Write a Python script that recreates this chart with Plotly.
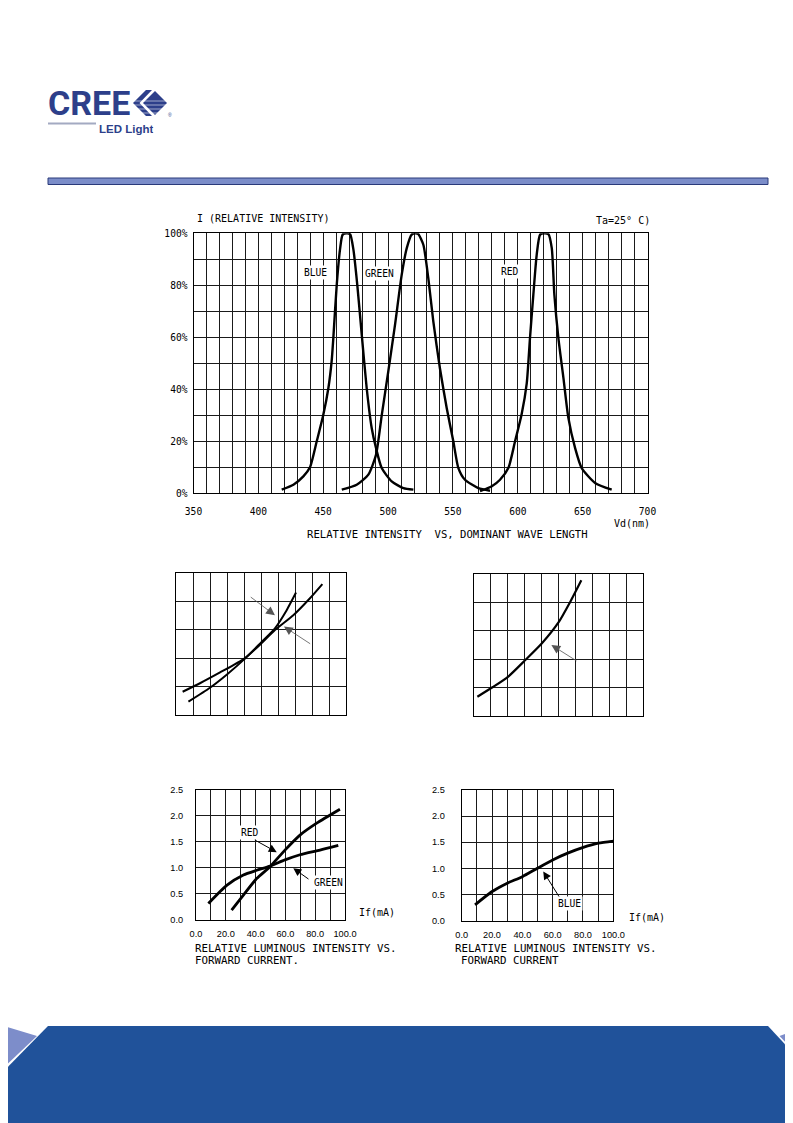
import plotly.graph_objects as go

# Page photographed in a 793 x 1123 window; the browser puts the figure at an
# 8 px body margin, so reference-page pixel (x, y) sits at figure pixel (x-8, y-8).
W, H = 793, 1123
OX, OY = 8, 8

# ---------------- data ----------------
# Relative intensity vs dominant wavelength
blue_wl = [418, 427, 434.7, 439.8, 445, 450, 454, 456.5, 457.8, 460.4, 463, 465, 468, 470.7,
           473.2, 476.3, 479.7, 483.5, 487.4, 490.7, 495.1, 502.8, 511.8, 519.5]
blue_int = [1.4, 3.3, 6.5, 10, 20, 30, 40.5, 50.8, 59.7, 80, 94, 99.5, 100, 99.7,
            94, 80, 61, 40.5, 25, 17.4, 9.7, 4.6, 2, 1.4]
green_wl = [464.3, 475.8, 484.8, 490.7, 495.1, 500.2, 505.4, 510.5, 514.4, 518.2, 521, 523.3,
            527.2, 531, 534.9, 540, 545.2, 550.3, 554.2, 559.3, 569.6, 578.6]
green_int = [1.4, 3.3, 7.2, 14.8, 30, 47, 65, 84, 94.3, 99.5, 100, 99.7,
             95.6, 82.8, 66, 48, 32.8, 20, 9.7, 5.2, 2, 1]
red_wl = [570.9, 580, 586.3, 592.7, 597.9, 603, 606.9, 609.4, 612, 614.6, 617.2, 620.5, 623.6,
          626.2, 628.2, 631.3, 635.2, 639, 644.2, 649.3, 659.6, 672.4]
red_int = [0.8, 2.7, 5.2, 9.7, 20, 30.5, 42.3, 59.7, 76.4, 91.8, 99.5, 100, 99.7,
           94.3, 76.4, 59.7, 44.3, 29, 17.4, 9.7, 4, 1.4]
wl_ticks = [350, 400, 450, 500, 550, 600, 650, 700]
pct_ticks = [0, 20, 40, 60, 80, 100]
pct_labels = ["0%", "20%", "40%", "60%", "80%", "100%"]

# Unlabelled middle charts
mid_a_if = [3.9, 14.1, 25.9, 40.4, 49.4, 58.2, 69, 78.8, 86.1]
mid_a_rel = [0.41, 0.56, 0.75, 1.0, 1.24, 1.5, 1.76, 2.06, 2.31]
mid_b_if = [7.3, 20, 29.8, 40.4, 49.4, 58.2, 65.1, 70.6]
mid_b_rel = [0.235, 0.48, 0.71, 0.99, 1.26, 1.53, 1.85, 2.16]
mid_c_if = [2, 11.2, 20.1, 30.2, 40.2, 50.3, 56.6, 63.5]
mid_c_rel = [0.34, 0.51, 0.69, 0.98, 1.28, 1.66, 1.99, 2.39]

# Relative luminous intensity vs forward current
red_if = [23.9, 31.8, 40.7, 49.7, 59.7, 69.8, 81, 96.6]
red_rel = [0.18, 0.47, 0.79, 1.02, 1.34, 1.63, 1.86, 2.13]
green_if = [8.3, 20.6, 31.8, 40.7, 49.7, 59.7, 69.8, 83.2, 95.5]
green_rel = [0.31, 0.66, 0.86, 0.95, 1.03, 1.15, 1.25, 1.34, 1.43]
blue_if = [8.8, 19.8, 29.7, 40, 49.9, 60, 69.9, 80.2, 90.1, 100]
blue_rel = [0.30, 0.55, 0.71, 0.84, 1.0, 1.16, 1.29, 1.40, 1.48, 1.52]
if_ticks = [0, 20, 40, 60, 80, 100]
if_labels = ["0.0", "20.0", "40.0", "60.0", "80.0", "100.0"]
rel_ticks = [0, 0.5, 1.0, 1.5, 2.0, 2.5]

# ---------------- helpers (reference-page pixels -> paper) ----------------
def fx(x):
    return (x - OX) / W

def fy(y):
    return 1 - (y - OY) / H

MONO = "DejaVu Sans Mono"
SANS = "Liberation Sans"
GRID = "#1a1a1a"

fig = go.Figure()

def curve(x, y, xa, ya, width):
    fig.add_trace(go.Scatter(x=x, y=y, xaxis=xa, yaxis=ya, mode="lines",
                             line=dict(color="black", width=width, shape="spline", smoothing=0.6),
                             showlegend=False, hoverinfo="skip"))

curve(blue_wl, blue_int, "x", "y", 2.4)
curve(green_wl, green_int, "x", "y", 2.4)
curve(red_wl, red_int, "x", "y", 2.4)
curve(mid_a_if, mid_a_rel, "x2", "y2", 2)
curve(mid_b_if, mid_b_rel, "x2", "y2", 2)
curve(mid_c_if, mid_c_rel, "x3", "y3", 2.2)
curve(red_if, red_rel, "x4", "y4", 2.8)
curve(green_if, green_rel, "x4", "y4", 2.8)
curve(blue_if, blue_rel, "x5", "y5", 2.8)

def xaxis(x0, x1, anchor, **kw):
    d = dict(domain=[fx(x0), fx(x1)], anchor=anchor, showline=True, linecolor="black",
             linewidth=1.2, mirror=True, showgrid=True, gridcolor=GRID, gridwidth=1,
             zeroline=False, ticks="", fixedrange=True, automargin=False)
    d.update(kw)
    return d

def yaxis(y_top, y_bot, anchor, **kw):
    d = dict(domain=[fy(y_bot), fy(y_top)], anchor=anchor, showline=True, linecolor="black",
             linewidth=1.2, mirror=True, showgrid=True, gridcolor=GRID, gridwidth=1,
             zeroline=False, ticks="", fixedrange=True, automargin=False)
    d.update(kw)
    return d

tickfont_top = dict(family=MONO, size=9.6, color="black")
tickfont_bot = dict(family=SANS, size=9.2, color="black")
minor_x = dict(dtick=10, showgrid=True, gridcolor=GRID, gridwidth=1)

fig.update_layout(
    template="none",
    width=W, height=H, margin=dict(l=0, r=0, t=0, b=0, pad=0, autoexpand=False),
    paper_bgcolor="white", plot_bgcolor="white", showlegend=False,
    xaxis=xaxis(193.5, 647.5, "y", range=[350, 700], tickvals=wl_ticks,
                tickfont=tickfont_top, ticklabelstandoff=9,
                minor=dict(dtick=10, tick0=350, showgrid=True, gridcolor=GRID, gridwidth=1)),
    yaxis=yaxis(233.3, 493.3, "x", range=[0, 100], tickvals=pct_ticks, ticktext=pct_labels,
                tickfont=tickfont_top, ticklabelstandoff=3,
                minor=dict(dtick=10, showgrid=True, gridcolor=GRID, gridwidth=1)),
    xaxis2=xaxis(176, 346, "y2", range=[0, 100], dtick=10, showticklabels=False),
    yaxis2=yaxis(573.3, 715, "x2", range=[0, 2.5], dtick=0.5, showticklabels=False),
    xaxis3=xaxis(474, 643, "y3", range=[0, 100], dtick=10, showticklabels=False),
    yaxis3=yaxis(574, 716, "x3", range=[0, 2.5], dtick=0.5, showticklabels=False),
    xaxis4=xaxis(196, 345, "y4", range=[0, 100], tickvals=if_ticks, ticktext=if_labels,
                 tickfont=tickfont_bot, ticklabelstandoff=5, minor=minor_x),
    yaxis4=yaxis(790, 919.5, "x4", range=[0, 2.5], tickvals=rel_ticks, tickformat=".1f",
                 tickfont=tickfont_bot, ticklabelstandoff=10),
    xaxis5=xaxis(461.7, 613.3, "y5", range=[0, 100], tickvals=if_ticks, ticktext=if_labels,
                 tickfont=tickfont_bot, ticklabelstandoff=5, minor=minor_x),
    yaxis5=yaxis(790, 920.5, "x5", range=[0, 2.5], tickvals=rel_ticks, tickformat=".1f",
                 tickfont=tickfont_bot, ticklabelstandoff=14),
)

anns = []

def text(t, x, y, anchor="left", size=10.6, family=MONO, color="black", bg=None, height=None):
    a = dict(text=t, x=fx(x), y=fy(y), xref="paper", yref="paper", xanchor=anchor,
             yanchor="middle", showarrow=False,
             font=dict(family=family, size=size, color=color))
    if bg:
        a.update(bgcolor=bg, borderpad=1)
    if height:
        a.update(height=height, valign="middle")
    anns.append(a)

# top chart texts
text("I (RELATIVE INTENSITY)", 195, 218, "left", 10)
text("Ta=25° C)", 652, 220, "right", 10)
text("Vd(nm)", 652, 523, "right", 10)
text("RELATIVE INTENSITY \u00a0VS, DOMINANT WAVE LENGTH", 447.5, 534, "center", 10.6)

# curve labels on top chart (data coordinates)
for lab, xv, yv in [("BLUE", 444, 85), ("GREEN", 493.5, 84.6), ("RED", 594, 85.5)]:
    anns.append(dict(text=lab, x=xv, y=yv, xref="x", yref="y", showarrow=False,
                     bgcolor="white", borderpad=1, font=dict(family=MONO, size=9.6, color="black")))

# bottom-left texts
text("If(mA)", 357, 912, "left", 10)
text("RELATIVE LUMINOUS INTENSITY VS.", 193, 948, "left", 10.8)
text("FORWARD CURRENT.", 193, 960, "left", 10.8)
text("RED", 250, 832, "center", 9.6, bg="white")
text("GREEN", 328, 882, "center", 9.6, bg="white")
# bottom-right texts
text("If(mA)", 627, 917, "left", 10)
text("RELATIVE LUMINOUS INTENSITY VS.", 453, 948, "left", 10.8)
text("FORWARD CURRENT", 459, 960, "left", 10.8)
text("BLUE", 569, 903, "center", 9.6, bg="white")

def arrow(xa, ya, head, tail, color, width, size):
    anns.append(dict(x=head[0], y=head[1], xref=xa, yref=ya, ax=tail[0], ay=tail[1],
                     axref=xa, ayref=ya, text="", showarrow=True, arrowhead=2,
                     arrowsize=size, arrowwidth=width, arrowcolor=color))

arrow("x2", "y2", (58.2, 1.76), (43.1, 2.1), "#555", 0.8, 2.2)
arrow("x2", "y2", (63.5, 1.56), (79.8, 1.24), "#555", 0.8, 2.2)
arrow("x3", "y3", (45.8, 1.25), (61.5, 0.955), "#555", 0.8, 2.2)
arrow("x4", "y4", (54.2, 1.3), (38.5, 1.55), "black", 1, 1.6)
arrow("x4", "y4", (65.3, 0.99), (76.5, 0.76), "black", 1, 1.6)
arrow("x5", "y5", (53.8, 0.94), (64.8, 0.43), "black", 1, 1.6)

# logo texts
NAVY = "#2d3f8a"
text("<b>CREE</b>", 46, 103, "left", 34, family="Roboto", color=NAVY, height=28)
text("<b>LED Light</b>", 97, 129, "left", 11.5, family=SANS, color=NAVY, height=12)
text("®", 166, 115, "left", 5, family=SANS, color=NAVY)

fig.update_layout(annotations=anns)

# ---------------- shapes (page decoration) ----------------
def path(pts):
    return "M " + " L ".join(f"{fx(x):.5f},{fy(y):.5f}" for x, y in pts) + " Z"

shapes = []
# title bar
shapes.append(dict(type="rect", xref="paper", yref="paper", x0=fx(48), x1=fx(768),
                   y0=fy(184.5), y1=fy(178), fillcolor="#7b8dc9",
                   line=dict(color="#2a3a7a", width=1), layer="below"))
# logo grey rule
shapes.append(dict(type="line", xref="paper", yref="paper", x0=fx(48), x1=fx(96),
                   y0=fy(123.5), y1=fy(123.5), line=dict(color="#a3aac2", width=2)))
# logo chevron and diamond
shapes.append(dict(type="path", xref="paper", yref="paper",
                   path=path([(133, 103), (146, 90), (152, 90), (139.5, 103), (152, 116), (146, 116)]),
                   fillcolor=NAVY, line=dict(width=0)))
shapes.append(dict(type="path", xref="paper", yref="paper",
                   path=path([(143, 103), (155, 91), (167, 103), (155, 115)]),
                   fillcolor=NAVY, line=dict(width=0)))
for yy in (101, 105, 109, 113):
    shapes.append(dict(type="line", xref="paper", yref="paper", x0=fx(46), x1=fx(168),
                       y0=fy(yy), y1=fy(yy), line=dict(color="rgba(255,255,255,0.55)", width=1)))
# footer
shapes.append(dict(type="path", xref="paper", yref="paper",
                   path=path([(48, 1026), (768, 1026), (801, 1061.6), (801, 1131), (8, 1131),
                              (8, 1066.8)]),
                   fillcolor="#20529a", line=dict(width=0), layer="below"))
shapes.append(dict(type="path", xref="paper", yref="paper",
                   path=path([(8, 1027.3), (37, 1036), (8, 1063.5)]),
                   fillcolor="#7d8dca", line=dict(width=0), layer="below"))
shapes.append(dict(type="path", xref="paper", yref="paper",
                   path=path([(779.5, 1036), (801, 1028), (801, 1058)]),
                   fillcolor="#7d8dca", line=dict(width=0), layer="below"))
fig.update_layout(shapes=shapes)

fig.write_html("out.html")
